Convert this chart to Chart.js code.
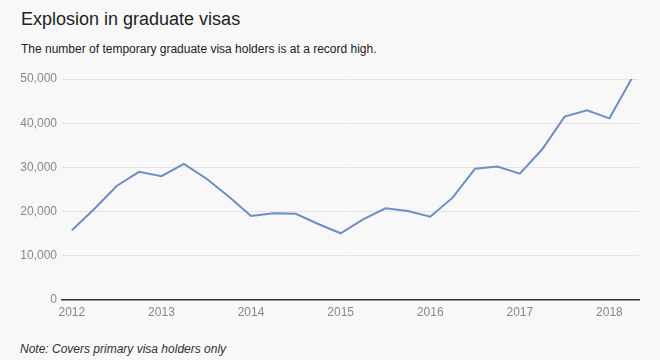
<!DOCTYPE html>
<html>
<head>
<meta charset="utf-8">
<script src="https://cdn.jsdelivr.net/npm/chart.js@4.4.1/dist/chart.umd.min.js"></script>
<style>
    html, body { margin: 0; padding: 0; background: #f8f8f8; }
    body { width: 660px; height: 360px; position: relative; overflow: hidden; font-family: "Liberation Sans", Arial, sans-serif; }
    .title { position: absolute; left: 21px; top: 9px; font-size: 18px; color: #222; }
    .subtitle { position: absolute; left: 21px; top: 42px; font-size: 12px; color: #222; }
    .note { position: absolute; left: 20px; top: 342px; font-size: 12px; font-style: italic; color: #333; }
    #wrap { position: absolute; left: 0; top: 0; width: 660px; height: 330px; }
</style>
</head>
<body>
<div class="title">Explosion in graduate visas</div>
<div class="subtitle">The number of temporary graduate visa holders is at a record high.</div>
<div id="wrap"><canvas id="chart"></canvas></div>
<div class="note">Note: Covers primary visa holders only</div>
<script>
const periods = [
    '2012-Q1', '2012-Q2', '2012-Q3', '2012-Q4',
    '2013-Q1', '2013-Q2', '2013-Q3', '2013-Q4',
    '2014-Q1', '2014-Q2', '2014-Q3', '2014-Q4',
    '2015-Q1', '2015-Q2', '2015-Q3', '2015-Q4',
    '2016-Q1', '2016-Q2', '2016-Q3', '2016-Q4',
    '2017-Q1', '2017-Q2', '2017-Q3', '2017-Q4',
    '2018-Q1', '2018-Q2'
];
const holders = [
    15800, 20600, 25800, 29000,
    28000, 30800, 27500, 23400,
    19000, 19600, 19500, 17200,
    15100, 18250, 20750, 20150,
    18850, 23150, 29700, 30200,
    28600, 34100, 41500, 42900,
    41100, 50150
];
const yearTicks = [2012, 2013, 2014, 2015, 2016, 2017, 2018];
const valueTicks = [0, 10000, 20000, 30000, 40000, 50000];

// quarter label -> decimal year for the linear x scale
function toYear(p) {
    const [y, q] = p.split('-Q');
    return parseInt(y, 10) + (parseInt(q, 10) - 1) / 4;
}

const points = periods.map((p, i) => ({ x: toYear(p), y: holders[i] }));
const tickFont = { family: '"Liberation Sans", Arial, sans-serif', size: 12 };

new Chart(document.getElementById('chart'), {
    type: 'line',
    data: {
        datasets: [{
            label: 'Temporary graduate visa holders',
            data: points,
            borderColor: '#6b8fc4',
            borderWidth: 2,
            pointRadius: 0,
            tension: 0,
            fill: false
        }]
    },
    options: {
        responsive: true,
        maintainAspectRatio: false,
        animation: false,
        layout: { padding: { left: 0, right: 21, top: 79, bottom: 0 } },
        plugins: { legend: { display: false }, tooltip: { enabled: false } },
        scales: {
            x: {
                type: 'linear',
                min: 2011.89,
                max: 2018.33,
                afterBuildTicks: axis => { axis.ticks = yearTicks.map(v => ({ value: v })); },
                afterFit: axis => { axis.height = 30; },
                grid: { display: false, drawTicks: false },
                border: { display: true, color: '#333', width: 1.5 },
                ticks: {
                    color: '#8a8782',
                    font: tickFont,
                    padding: 5,
                    maxRotation: 0,
                    callback: v => String(v)
                }
            },
            y: {
                min: 0,
                max: 50000,
                afterBuildTicks: axis => { axis.ticks = valueTicks.map(v => ({ value: v })); },
                afterFit: axis => { axis.width = 62; },
                grid: {
                    drawTicks: false,
                    color: ctx => ctx.tick && ctx.tick.value === 0 ? 'rgba(0,0,0,0)' : '#e4e4e4',
                    lineWidth: 1
                },
                border: { display: false },
                ticks: {
                    color: '#8a8782',
                    font: tickFont,
                    padding: 5,
                    callback: v => v.toLocaleString('en-US')
                }
            }
        }
    }
});
</script>
</body>
</html>
